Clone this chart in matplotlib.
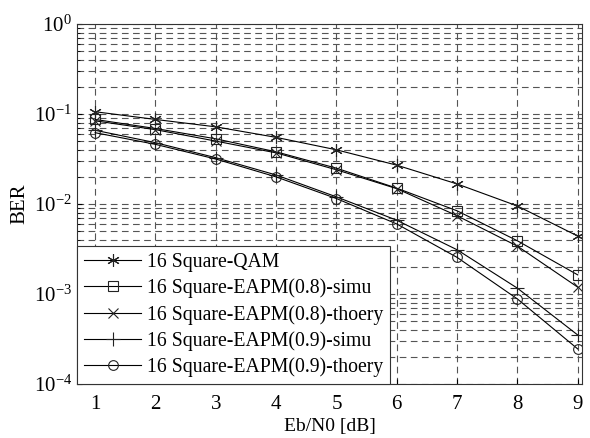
import matplotlib
matplotlib.use("Agg")
import matplotlib.pyplot as plt
from matplotlib.ticker import LogLocator, FixedLocator, NullFormatter

ebn0 = [1, 2, 3, 4, 5, 6, 7, 8, 9]
qam = [0.106, 0.087, 0.072, 0.055, 0.040, 0.027, 0.0167, 0.0095, 0.0044]
eapm08_simu = [0.087, 0.069, 0.053, 0.038, 0.025, 0.015, 0.0084, 0.0039, 0.00163]
eapm08_theory = [0.084, 0.067, 0.050, 0.037, 0.024, 0.0148, 0.0074, 0.0034, 0.00119]
eapm09_simu = [0.066, 0.048, 0.0327, 0.021, 0.012, 0.0066, 0.0031, 0.00116, 0.00035]
eapm09_theory = [0.062, 0.046, 0.0316, 0.020, 0.0115, 0.0060, 0.00255, 0.00088, 0.000245]

labels = ["16 Square-QAM", "16 Square-EAPM(0.8)-simu", "16 Square-EAPM(0.8)-thoery",
          "16 Square-EAPM(0.9)-simu", "16 Square-EAPM(0.9)-thoery"]
markers = [(6, 2, 0), "s", "x", "+", "o"]
sizes = [9, 7, 7, 10, 7]
series = [qam, eapm08_simu, eapm08_theory, eapm09_simu, eapm09_theory]

plt.rcParams['font.family'] = ['Liberation Serif', 'DejaVu Serif']
plt.rcParams['mathtext.fontset'] = 'custom'
plt.rcParams['mathtext.rm'] = 'Liberation Serif'
plt.rcParams['mathtext.it'] = 'Liberation Serif'

fig = plt.figure(figsize=(5.9, 4.38), dpi=100)
ax = fig.add_axes([77/590, 54/438, 505/590, 360/438])

for y, m, ms, lab in zip(series, markers, sizes, labels):
    ax.semilogy(ebn0, y, color='black', lw=0.8, marker=m, markersize=ms,
                markerfacecolor='none', markeredgecolor='#222222', markeredgewidth=0.8,
                label=lab)

ax.set_xlim(0.7, 9.07)
ax.set_ylim(1e-4, 1)
ax.xaxis.set_major_locator(FixedLocator(ebn0))
ax.yaxis.set_major_locator(LogLocator(base=10, numticks=10))
ax.yaxis.set_minor_locator(LogLocator(base=10, subs=range(2, 10), numticks=20))
ax.yaxis.set_minor_formatter(NullFormatter())

grid_kw = dict(color='#555555', linestyle=(0, (6, 4)), linewidth=0.8)
ax.grid(True, which='major', axis='both', **grid_kw)
ax.grid(True, which='minor', axis='y', **grid_kw)

ax.tick_params(which='both', direction='in', labelsize=15, top=False, right=False)
ax.tick_params(axis='x', pad=8)
for s in ax.spines.values():
    s.set_color('#333333')
    s.set_linewidth(0.8)

ax.set_xlabel("Eb/N0 [dB]", fontsize=14, labelpad=3)
ax.set_ylabel("BER", fontsize=15, labelpad=3)

leg = ax.legend(loc='lower left', fontsize=14.2, frameon=True, fancybox=False,
                edgecolor='#333333', framealpha=1, borderaxespad=0,
                handlelength=2.9, handletextpad=0.3, labelspacing=0.33,
                borderpad=0.35)
leg.get_frame().set_linewidth(0.8)

fig.savefig("out.png", dpi=100)
